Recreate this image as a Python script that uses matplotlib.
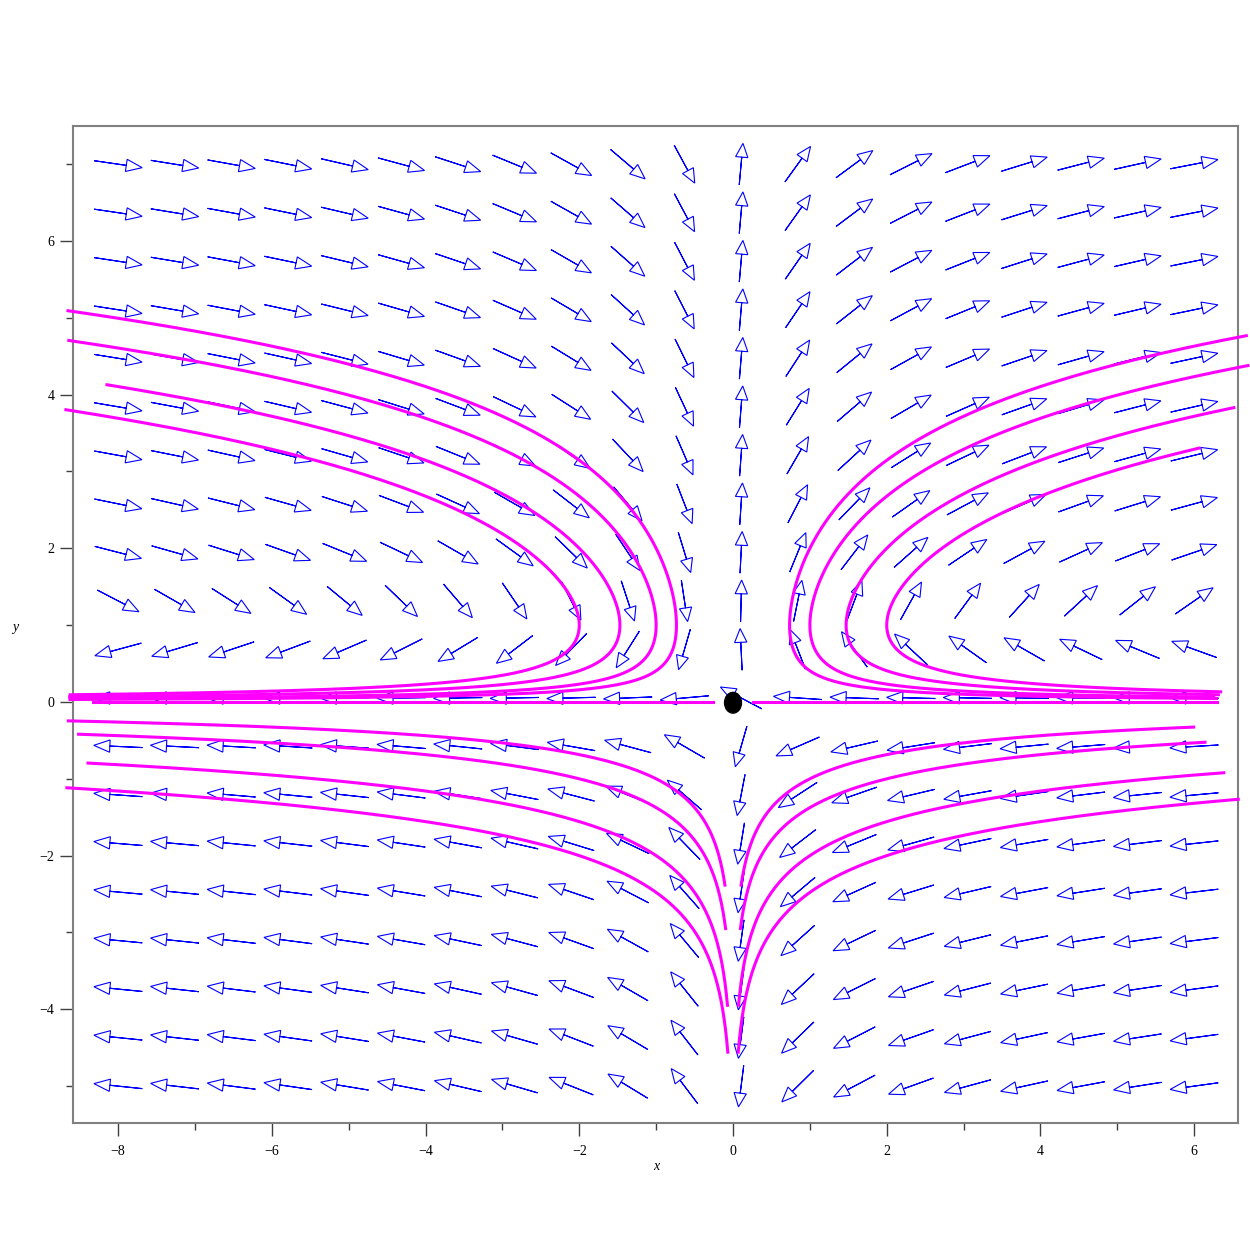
import numpy as np
import matplotlib
matplotlib.use("Agg")
import matplotlib.pyplot as plt
from matplotlib.patches import FancyArrow, Ellipse

# system: x' = y - 1, y' = y / x   (direction field on a 20x20 grid)
x_range = (-8, 6)
y_range = (-5, 7)
n_grid = 20

# solution curves: initial point, where each end stops
curve_x0 = [-1, -1, -2, -2, 1, 1, 2, 2, -1, -2, -1, -2, 1, 2, 1, 2]
curve_y0 = [2, 1, 2, 1, 2, 1, 2, 1, -1, -1, -2, -2, -1, -1, -2, -2]
# |x| where the curve stops when following increasing y
up_xmax = [8.62, 8.62, 8.08, 8.62, 6.64, 6.64, 6.50, 6.05,
           8.63, 8.50, 8.37, 8.63, 5.98, 6.14, 6.36, 6.57]
# |x| / y where the curve stops when following decreasing y
down_xmax = [8.62, 8.62, 8.62, 8.62, 6.28, 6.25, 6.30, 6.33] + [np.inf] * 8
down_ymin = [-np.inf] * 8 + [-2.38, -2.94, -3.94, -4.55, -2.38, -2.94, -3.94, -4.55]

# y = 0 is a solution too
zero_x_start = [-8.33, 0.26]
zero_x_end = [-0.26, 6.30]

singular_point = (0.0, -0.01)


def slope(y, x):
    # dx/dy along a solution
    return x * (y - 1) / y


def trace(x0, y0, sign, xmax, ymin):
    xs, ys = [x0], [y0]
    x, y = float(x0), float(y0)
    for _ in range(20000):
        h = sign * 0.003 * max(abs(y), 0.05)
        k1 = slope(y, x)
        k2 = slope(y + h / 2, x + h / 2 * k1)
        k3 = slope(y + h / 2, x + h / 2 * k2)
        k4 = slope(y + h, x + h * k3)
        x = x + h / 6 * (k1 + 2 * k2 + 2 * k3 + k4)
        y = y + h
        xs.append(x)
        ys.append(y)
        if abs(x) > xmax or y < ymin:
            break
    return xs, ys


plt.rcParams["font.family"] = ["Liberation Serif", "DejaVu Serif"]

fig = plt.figure(figsize=(12.5, 12.5), dpi=100)
ax = fig.add_axes([73 / 1250, 1 - 1123 / 1250, (1238 - 73) / 1250, (1123 - 126) / 1250])
ax.set_xlim(-8.587, 6.570)
ax.set_ylim(-5.48, 7.497)

# direction field
xg = np.linspace(x_range[0], x_range[1], n_grid)
yg = np.linspace(y_range[0], y_range[1], n_grid)
sx = xg[1] - xg[0]
sy = yg[1] - yg[0]
for X in xg:
    for Y in yg:
        P = Y - 1
        Q = Y / X
        n = np.hypot(P / sx, Q / sy)
        dx = 0.86 * P / n
        dy = 0.86 * Q / n
        L = np.hypot(dx, dy)
        ax.add_patch(FancyArrow(X - dx / 2, Y - dy / 2, dx, dy, width=0,
                                head_width=0.16, head_length=0.33 * L,
                                length_includes_head=True, fill=False,
                                ec="#0000ff", lw=0.8, clip_on=False))

# solution curves
for i in range(len(curve_x0)):
    xu, yu = trace(curve_x0[i], curve_y0[i], 1, up_xmax[i], -np.inf)
    xd, yd = trace(curve_x0[i], curve_y0[i], -1, down_xmax[i], down_ymin[i])
    xs = xd[::-1] + xu[1:]
    ys = yd[::-1] + yu[1:]
    ax.plot(xs, ys, color="#ff00ff", lw=2.2, clip_on=False, zorder=3)

for a, b in zip(zero_x_start, zero_x_end):
    ax.plot([a, b], [0, 0], color="#ff00ff", lw=2.2, zorder=3)

ax.add_patch(Ellipse(singular_point, 0.22, 0.27, color="black", zorder=4))

# axes styling
for s in ax.spines.values():
    s.set_color("#808080")
    s.set_linewidth(1.5)
ax.set_xticks(range(-8, 7, 2))
ax.set_xticks(range(-7, 7, 2), minor=True)
ax.set_yticks(range(-4, 7, 2))
ax.set_yticks(range(-5, 8, 2), minor=True)
ax.tick_params(which="major", direction="out", length=9.5, width=1, color="#404040",
               labelsize=10, pad=6)
ax.tick_params(which="minor", direction="out", length=5, width=1, color="#404040")
ax.tick_params(axis="y", which="major", pad=4)

fig.text(656 / 1250, 1 - 1166 / 1250, "x", style="italic", fontsize=10, ha="center", va="center")
fig.text(15 / 1250, 1 - 627 / 1250, "y", style="italic", fontsize=10, ha="center", va="center")

fig.savefig("out.png", dpi=100)
